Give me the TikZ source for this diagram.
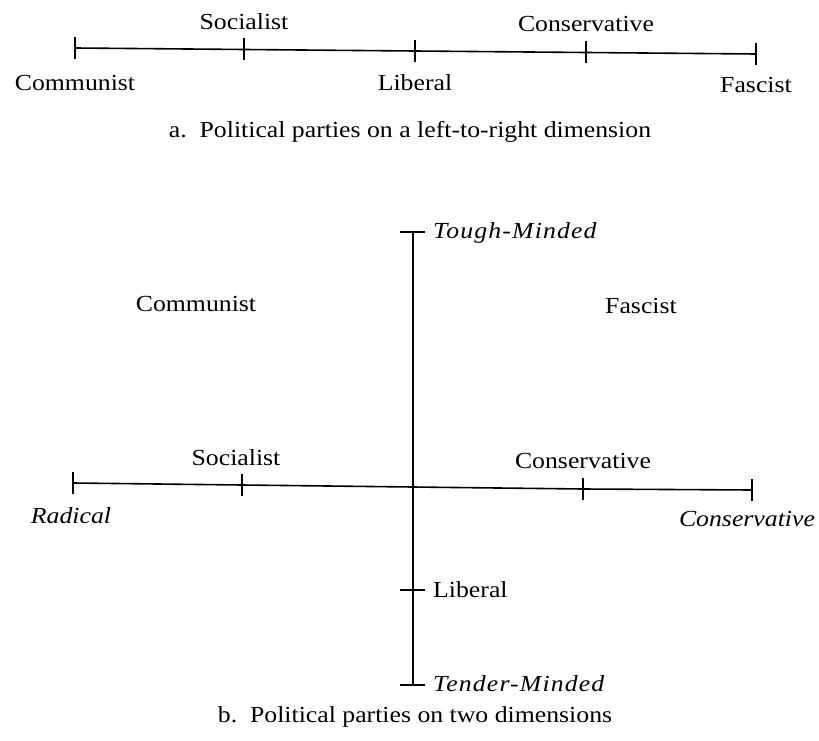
\documentclass[tikz,border=0pt]{standalone}
\usepackage{fontspec}
\setmainfont{Liberation Serif}[FakeStretch=1.12]
\newfontfamily\axisit{Liberation Serif}[FakeStretch=1.12,ItalicFeatures={FakeStretch=1.12}]
\begin{document}
\begin{tikzpicture}[x=1pt,y=-1pt,
  lbl/.style={inner sep=0pt,anchor=base,font=\fontsize{23}{27}\selectfont},
  ilbl/.style={lbl,font=\fontsize{23}{27}\selectfont\itshape},
  wlbl/.style={lbl,font=\fontsize{23}{27}\selectfont\itshape\addfontfeature{LetterSpace=5}},
  axis/.style={line width=1.6pt},
  tick/.style={line width=1.4pt}]
\useasboundingbox (0,0) rectangle (819,741);
% ---- (a) one dimension
\coordinate (a1) at (75,48);
\coordinate (a2) at (244,49.5);
\coordinate (a3) at (415,51);
\coordinate (a4) at (586,52.5);
\coordinate (a5) at (756,54);
\draw[axis] (a1) -- (a2) -- (a3) -- (a4) -- (a5);
\foreach \p in {a1,a2,a3,a4,a5}
  \draw[tick] ([yshift=-11pt]\p) -- ([yshift=11pt]\p);
\node[lbl] (soc1) at (244,30) {Socialist};
\node[lbl] (con1) at (586,32) {Conservative};
\node[lbl] (com1) at (75,91) {Communist};
\node[lbl] (lib1) at (415,91) {Liberal};
\node[lbl] (fas1) at (756,93) {Fascist};
\node[lbl] (capa) at (410,138) {a.\ \ Political parties on a left-to-right dimension};
% ---- (b) two dimensions
\coordinate (b1) at (73,483);
\coordinate (b2) at (242,485);
\coordinate (b3) at (413,487);
\coordinate (b4) at (583,489);
\coordinate (b5) at (752,490);
\draw[axis] (b1) -- (b2) -- (b3) -- (b4) -- (b5);
\foreach \p in {b1,b2,b4,b5}
  \draw[tick] ([yshift=-11pt]\p) -- ([yshift=11pt]\p);
\coordinate (vt) at (413,232);
\coordinate (vl) at (413,590);
\coordinate (vb) at (413,685);
\draw[axis] (vt) -- (vl) -- (vb);
\foreach \p in {vt,vl,vb}
  \draw[tick] ([xshift=-13pt]\p) -- ([xshift=12pt]\p);
\node[wlbl,anchor=base west] (tough) at (433,238) {Tough-Minded};
\node[lbl,anchor=base west] (lib2) at (433,597) {Liberal};
\node[wlbl,anchor=base west] (tender) at (433,691) {Tender-Minded};
\node[lbl] (com2) at (196,311) {Communist};
\node[lbl] (fas2) at (641,313) {Fascist};
\node[lbl] (soc2) at (236,465) {Socialist};
\node[lbl] (con2) at (583,468) {Conservative};
\node[ilbl] (rad) at (71,523) {Radical};
\node[ilbl] (con3) at (747,526) {Conservative};
\node[lbl] (capb) at (415,722) {b.\ \ Political parties on two dimensions};
\end{tikzpicture}
\end{document}
